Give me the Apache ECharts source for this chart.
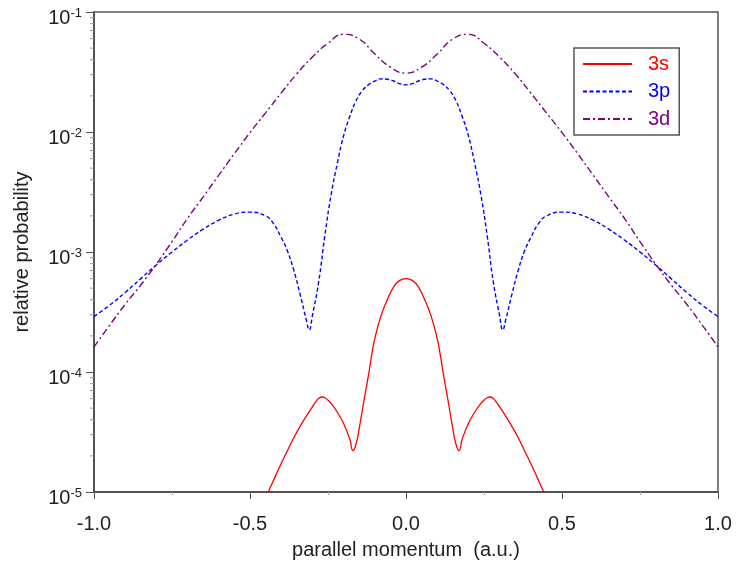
<!DOCTYPE html>
<html>
<head>
<meta charset="utf-8">
<script src="https://cdn.jsdelivr.net/npm/echarts@6/dist/echarts.min.js"></script>
<style>
  html, body { margin: 0; padding: 0; background: #fff; }
  #chart { width: 739px; height: 574px; }
</style>
</head>
<body>
<div id="chart"></div>
<script>
  // 3s curve
  var s3X = [-0.46, -0.44, -0.42, -0.40, -0.38, -0.36, -0.34, -0.32, -0.30, -0.29, -0.28, -0.27, -0.26, -0.25, -0.24, -0.22, -0.20, -0.18, -0.17, -0.16, -0.15, -0.14, -0.13, -0.12, -0.11, -0.10, -0.08, -0.06, -0.04, -0.02, 0,
             0.02, 0.04, 0.06, 0.08, 0.10, 0.11, 0.12, 0.13, 0.14, 0.15, 0.16, 0.17, 0.18, 0.20, 0.22, 0.24, 0.25, 0.26, 0.27, 0.28, 0.29, 0.30, 0.32, 0.34, 0.36, 0.38, 0.40, 0.42, 0.44, 0.46];
  var s3Y = [7.67e-6, 1.02e-5, 1.33e-5, 1.73e-5, 2.21e-5, 2.82e-5, 3.51e-5, 4.27e-5, 5.13e-5, 5.6e-5, 6.0e-5, 6.19e-5, 6.1e-5, 5.82e-5, 5.47e-5, 4.62e-5, 3.72e-5, 2.75e-5, 2.21e-5, 2.51e-5, 3.39e-5, 4.8e-5, 6.8e-5, 9.5e-5, 1.38e-4, 1.9e-4, 2.95e-4, 4.0e-4, 5.1e-4, 5.8e-4, 6.0e-4,
             5.8e-4, 5.1e-4, 4.0e-4, 2.95e-4, 1.9e-4, 1.38e-4, 9.5e-5, 6.8e-5, 4.8e-5, 3.39e-5, 2.51e-5, 2.21e-5, 2.75e-5, 3.72e-5, 4.62e-5, 5.47e-5, 5.82e-5, 6.1e-5, 6.19e-5, 6.0e-5, 5.6e-5, 5.13e-5, 4.27e-5, 3.51e-5, 2.82e-5, 2.21e-5, 1.73e-5, 1.33e-5, 1.02e-5, 7.67e-6];

  // 3p curve
  var p3X = [-1.0, -0.95, -0.90, -0.85, -0.80, -0.75, -0.70, -0.65, -0.60, -0.55, -0.50, -0.45, -0.425, -0.40, -0.38, -0.36, -0.34, -0.32, -0.31, -0.30, -0.28, -0.26, -0.24, -0.22, -0.20, -0.18, -0.16, -0.14, -0.12, -0.10, -0.08, -0.06, -0.04, -0.02, 0,
             0.02, 0.04, 0.06, 0.08, 0.10, 0.12, 0.14, 0.16, 0.18, 0.20, 0.22, 0.24, 0.26, 0.28, 0.30, 0.31, 0.32, 0.34, 0.36, 0.38, 0.40, 0.425, 0.45, 0.50, 0.55, 0.60, 0.65, 0.70, 0.75, 0.80, 0.85, 0.90, 0.95, 1.0];
  var p3Y = [2.9e-4, 3.6e-4, 4.6e-4, 6.0e-4, 7.8e-4, 1.0e-3, 1.26e-3, 1.55e-3, 1.84e-3, 2.07e-3, 2.15e-3, 2.0e-3, 1.73e-3, 1.32e-3, 1.02e-3, 7.1e-4, 4.5e-4, 2.75e-4, 2.24e-4, 2.95e-4, 5.6e-4, 1.38e-3, 3.0e-3, 5.5e-3, 9.3e-3, 0.0135, 0.0182, 0.0221, 0.0248, 0.0266, 0.0277, 0.0275, 0.0266, 0.0253, 0.0247,
             0.0253, 0.0266, 0.0275, 0.0277, 0.0266, 0.0248, 0.0221, 0.0182, 0.0135, 9.3e-3, 5.5e-3, 3.0e-3, 1.38e-3, 5.6e-4, 2.95e-4, 2.24e-4, 2.75e-4, 4.5e-4, 7.1e-4, 1.02e-3, 1.32e-3, 1.73e-3, 2.0e-3, 2.15e-3, 2.07e-3, 1.84e-3, 1.55e-3, 1.26e-3, 1.0e-3, 7.8e-4, 6.0e-4, 4.6e-4, 3.6e-4, 2.9e-4];

  // 3d curve
  var d3X = [-1.0, -0.95, -0.90, -0.85, -0.80, -0.75, -0.70, -0.65, -0.60, -0.55, -0.50, -0.45, -0.40, -0.35, -0.30, -0.25, -0.20, -0.15, -0.10, -0.05, 0,
             0.05, 0.10, 0.15, 0.20, 0.25, 0.30, 0.35, 0.40, 0.45, 0.50, 0.55, 0.60, 0.65, 0.70, 0.75, 0.80, 0.85, 0.90, 0.95, 1.0];
  var d3Y = [1.62e-4, 2.45e-4, 3.67e-4, 5.31e-4, 7.94e-4, 1.22e-3, 1.91e-3, 2.88e-3, 4.37e-3, 6.61e-3, 9.89e-3, 0.01445, 0.02113, 0.03055, 0.04217, 0.05495, 0.06516, 0.05957, 0.04467, 0.03467, 0.0309,
             0.03467, 0.04467, 0.05957, 0.06516, 0.05495, 0.04217, 0.03055, 0.02113, 0.01445, 9.89e-3, 6.61e-3, 4.37e-3, 2.88e-3, 1.91e-3, 1.22e-3, 7.94e-4, 5.31e-4, 3.67e-4, 2.45e-4, 1.62e-4];

  // minor ticks of the log axis (2..9 in each decade)
  var yMinorTicks = [];
  [1e-5, 1e-4, 1e-3, 1e-2].forEach(function (dec) {
    for (var k = 2; k <= 9; k++) yMinorTicks.push(+(k * dec).toPrecision(2));
  });

  function pairs(xs, ys) {
    return xs.map(function (x, i) { return [x, ys[i]]; });
  }

  var font = 'Liberation Sans, Arial, sans-serif';
  var chart = echarts.init(document.getElementById('chart'));

  chart.setOption({
    animation: false,
    grid: {
      left: 94, right: 21, top: 12, bottom: 82,
      show: true, borderColor: '#555', borderWidth: 1.5
    },
    legend: {
      orient: 'vertical',
      left: 574, top: 48,
      width: 105,
      padding: [6, 9, 6, 8],
      itemGap: 7.5,
      itemWidth: 49,
      itemHeight: 12,
      borderColor: '#555',
      borderWidth: 1.5,
      itemStyle: { opacity: 0 },
      textStyle: { fontSize: 20, fontFamily: font, padding: [0, 0, 0, 11] },
      data: [
        { name: '3s', textStyle: { color: '#ff0000' } },
        { name: '3p', textStyle: { color: '#0000ff' } },
        { name: '3d', textStyle: { color: '#800080' } }
      ]
    },
    xAxis: {
      type: 'value',
      min: -1, max: 1, interval: 0.5,
      name: 'parallel momentum  (a.u.)',
      nameLocation: 'middle',
      nameGap: 48,
      nameTextStyle: { fontSize: 20, color: '#222', fontFamily: font },
      axisLine: { lineStyle: { color: '#444', width: 1.5 } },
      axisTick: { length: 7, lineStyle: { color: '#555' } },
      minorTick: { show: true, splitNumber: 2, length: 3, lineStyle: { color: '#aaa' } },
      splitLine: { show: false },
      axisLabel: {
        margin: 22, fontSize: 20, color: '#222', fontFamily: font,
        formatter: function (v) { return v.toFixed(1); }
      }
    },
    yAxis: {
      type: 'log',
      logBase: 10,
      min: 1e-5, max: 1e-1,
      name: 'relative probability',
      nameLocation: 'middle',
      nameGap: 62,
      nameTextStyle: { fontSize: 20, color: '#222', fontFamily: font },
      axisLine: { show: true, onZero: false, lineStyle: { color: '#444', width: 1.5 } },
      axisTick: { show: true, length: 8, lineStyle: { color: '#555' } },
      splitLine: { show: false },
      axisLabel: {
        margin: 12,
        color: '#222',
        padding: [12, 0, 0, 0],
        formatter: function (v) {
          return '{b|10}{s|' + Math.round(Math.log10(v)) + '}';
        },
        rich: {
          b: { fontSize: 20, fontFamily: font, color: '#222' },
          s: { fontSize: 13, fontFamily: font, color: '#222', verticalAlign: 'bottom', padding: [0, 0, 9, 0] }
        }
      }
    },
    series: [
      {
        name: '3s', type: 'line', symbol: 'none', smooth: 0.5,
        data: pairs(s3X, s3Y),
        lineStyle: { color: '#ff0000', width: 1.3 },
        itemStyle: { color: '#ff0000' }
      },
      {
        name: '3p', type: 'line', symbol: 'none', smooth: 0.5,
        data: pairs(p3X, p3Y),
        lineStyle: { color: '#0000ff', width: 1.4, type: [4, 2.5] },
        itemStyle: { color: '#0000ff' }
      },
      {
        name: '3d', type: 'line', symbol: 'none', smooth: 0.5,
        data: pairs(d3X, d3Y),
        lineStyle: { color: '#800080', width: 1.4, type: [7, 3, 2, 3] },
        itemStyle: { color: '#800080' }
      },
      {
        name: 'yMinor', type: 'custom', silent: true, clip: false,
        data: yMinorTicks.map(function (v) { return [-1, v]; }),
        renderItem: function (params, api) {
          var p = api.coord([api.value(0), api.value(1)]);
          return {
            type: 'line',
            shape: { x1: p[0] - 4, y1: p[1], x2: p[0], y2: p[1] },
            style: { stroke: '#999', lineWidth: 1 }
          };
        }
      }
    ]
  });
</script>
</body>
</html>
